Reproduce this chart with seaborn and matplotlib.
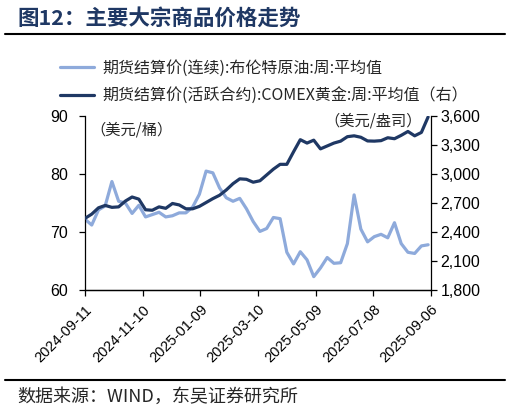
import pandas as pd
import numpy as np
import matplotlib
matplotlib.use('Agg')
import matplotlib.pyplot as plt
import matplotlib.dates as mdates
from matplotlib.ticker import FuncFormatter
import seaborn as sns

sns.set_style('ticks')
plt.rcParams['font.family'] = ['Liberation Sans', 'Noto Sans CJK SC', 'DejaVu Sans']
CJK = ['Noto Sans CJK SC', 'DejaVu Sans']

# ── データ（週次, 2024-09-11 から） ─────────────────────────
dates = pd.date_range('2024-09-11', periods=52, freq='7D')
brent = [72.2, 71.2, 73.8, 74.5, 78.7, 75.3, 75.0, 73.2, 74.6, 72.6,
         73.0, 73.4, 72.6, 72.8, 73.3, 73.3, 74.3, 76.5, 80.5, 80.2,
         77.6, 75.9, 75.3, 75.8, 74.0, 71.8, 70.1, 70.6, 72.5, 72.3,
         66.5, 64.5, 66.6, 65.2, 62.3, 63.8, 65.6, 64.6, 64.7, 68.0,
         76.4, 70.5, 68.3, 69.2, 69.6, 69.0, 71.6, 68.0, 66.5, 66.3,
         67.6, 67.8]
gold = [2541, 2585, 2650, 2675, 2655, 2660, 2720, 2762, 2740, 2630,
        2625, 2660, 2645, 2695, 2680, 2640, 2640, 2665, 2705, 2745,
        2780, 2835, 2900, 2950, 2945, 2915, 2930, 2990, 3050, 3100,
        3100, 3230, 3355, 3320, 3350, 3260, 3290, 3320, 3340, 3386,
        3395, 3380, 3342, 3340, 3345, 3375, 3365, 3400, 3440, 3395,
        3430, 3590]
xticks = ['2024-09-11', '2024-11-10', '2025-01-09', '2025-03-10',
          '2025-05-09', '2025-07-08', '2025-09-06']
lab_brent = '期货结算价(连续):布伦特原油:周:平均值'
lab_gold = '期货结算价(活跃合约):COMEX黄金:周:平均值（右）'

df = pd.DataFrame({'date': dates, 'brent': brent, 'gold': gold})

C_BRENT = '#8EAADB'
C_GOLD = '#1F3864'

fig = plt.figure(figsize=(5.1, 4.13), dpi=100)
ax = fig.add_axes([85/510, 1-290/413, 346/510, 174/413])
ax2 = ax.twinx()

sns.lineplot(data=df, x='date', y='brent', ax=ax, color=C_BRENT, lw=2.3,
             label=lab_brent, legend=False)
sns.lineplot(data=df, x='date', y='gold', ax=ax2, color=C_GOLD, lw=2.3,
             label=lab_gold, legend=False)

ax.set_xlim(pd.Timestamp(xticks[0]), pd.Timestamp(xticks[-1]))
ax.set_ylim(60, 90)
ax.set_yticks([60, 70, 80, 90])
ax2.set_ylim(1800, 3600)
ax2.set_yticks(range(1800, 3601, 300))
ax2.yaxis.set_major_formatter(FuncFormatter(lambda v, p: f'{int(v):,}'))
ax.set_xticks(pd.to_datetime(xticks))
ax.xaxis.set_major_formatter(mdates.DateFormatter('%Y-%m-%d'))
plt.setp(ax.get_xticklabels(), rotation=45, ha='right', rotation_mode='anchor')

for a in (ax, ax2):
    a.set_xlabel('')
    a.set_ylabel('')
    a.spines['top'].set_visible(False)
    for s in a.spines.values():
        s.set_linewidth(0.9)
        s.set_color('black')
    a.tick_params(axis='both', direction='out', length=4, width=0.9,
                  labelsize=11.5, colors='black', pad=3)
ax.tick_params(axis='x', labelsize=10.5, pad=5)
ax.tick_params(axis='y', pad=8)
ax2.spines['left'].set_visible(False)
ax.spines['right'].set_visible(False)

ax.text(0.015, 0.97, '（美元/桶）', transform=ax.transAxes, ha='left', va='top',
        fontsize=11, family=CJK)
ax2.text(0.975, 1.02, '（美元/盎司）', transform=ax.transAxes, ha='right', va='top',
         fontsize=11, family=CJK)

# 凡例
h1, l1 = ax.get_legend_handles_labels()
h2, l2 = ax2.get_legend_handles_labels()
leg = fig.legend(h1 + h2, l1 + l2, loc='upper left',
                 bbox_to_anchor=(46/510, 1-45/413), frameon=False,
                 prop={'family': CJK, 'size': 11.5}, handlelength=2.1,
                 handletextpad=0.5, labelspacing=0.7)

# タイトル・線・出典
fig.text(17/510, 1-18/413, '图12：主要大宗商品价格走势', ha='left', va='center',
         fontsize=15.5, fontweight='bold', color='#1F3864', family=CJK)
fig.add_artist(plt.Line2D([5/510, 505/510], [1-34/413, 1-34/413],
                          color='black', lw=1.5, transform=fig.transFigure))
fig.add_artist(plt.Line2D([5/510, 505/510], [1-380/413, 1-380/413],
                          color='black', lw=1.5, transform=fig.transFigure))
fig.text(17/510, 1-397/413, '数据来源：WIND，东吴证券研究所', ha='left', va='center',
         fontsize=13, family=CJK)

fig.savefig('out.png', dpi=100)
